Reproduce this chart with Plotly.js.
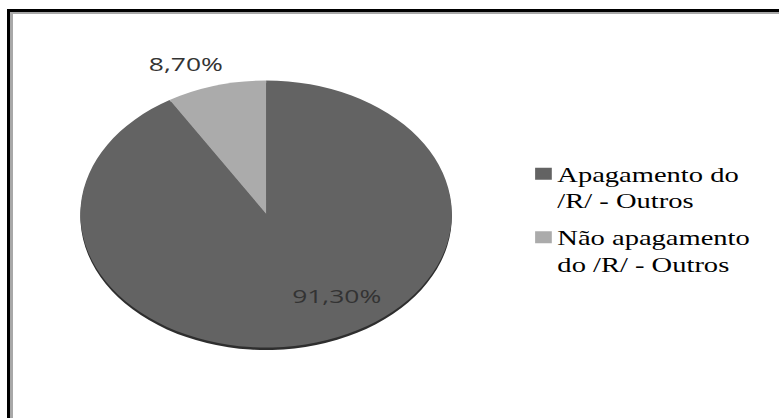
<!DOCTYPE html>
<html><head><meta charset="utf-8">
<script src="https://cdn.plot.ly/plotly-3.0.1.min.js"></script>
<style>
html,body{margin:0;padding:0;background:#fff;overflow:hidden;width:779px;height:418px;position:relative}
#wrap{position:absolute;left:0;top:0;width:560px;height:418px;transform:scaleX(1.391);transform-origin:0 0;}
#frameOuter{position:absolute;left:7px;top:9px;width:800px;height:500px;border-top:3px solid #000;border-left:3px solid #000;pointer-events:none}
#frameInner{position:absolute;left:10px;top:12px;width:800px;height:500px;border-top:2px solid #a8a8a8;border-left:3px solid #a8a8a8;pointer-events:none}
</style></head><body>
<div id="wrap"><div id="chart" style="width:560px;height:418px"></div></div>
<div id="frameOuter"></div><div id="frameInner"></div>
<script>
const categories = ['Apagamento do<br>/R/ - Outros', 'Não apagamento<br>do /R/ - Outros'];
const values = [91.30, 8.70];
const sliceColors = ['#636363', '#ababab'];
const rimColor = '#2e2e2e';
const valueLabels = values.map(v => v.toFixed(2).replace('.', ',') + '%');

const W = 560, H = 418;
const cx = 191.3, cy = 214, r = 133.5;
const px = x => x / W;
const py = y => 1 - y / H;

const rim = {
  type: 'pie', labels: categories, values: values,
  marker: {colors: [rimColor, rimColor], line: {width: 0}},
  sort: false, direction: 'clockwise', rotation: 0,
  textinfo: 'none', hoverinfo: 'skip', showlegend: false,
  domain: {x: [px(cx - r), px(cx + r)], y: [py(cy + 2.5 + r), py(cy + 2.5 - r)]}
};
const main = {
  type: 'pie', labels: categories, values: values,
  marker: {colors: sliceColors, line: {width: 0}},
  sort: false, direction: 'clockwise', rotation: 0,
  textinfo: 'none', hoverinfo: 'label+percent',
  domain: {x: [px(cx - r), px(cx + r)], y: [py(cy + r), py(cy - r)]}
};

const layout = {
  width: W, height: H,
  margin: {l: 0, r: 0, t: 0, b: 0},
  paper_bgcolor: '#ffffff',
  showlegend: true,
  legend: {
    x: px(360.7), xanchor: 'left', y: py(154), yanchor: 'top',
    font: {family: '"Liberation Serif", "Times New Roman", serif', size: 20.5, color: '#000'},
    valign: 'top', bgcolor: 'rgba(0,0,0,0)', itemwidth: 30
  },
  annotations: [
    {text: valueLabels[1], x: px(133.8), y: py(64), xref: 'paper', yref: 'paper', showarrow: false,
     xanchor: 'center', yanchor: 'middle', font: {family: '"Open Sans", sans-serif', size: 19, color: '#333'}},
    {text: valueLabels[0], x: px(242.4), y: py(296), xref: 'paper', yref: 'paper', showarrow: false,
     xanchor: 'center', yanchor: 'middle', font: {family: '"Open Sans", sans-serif', size: 19, color: '#333'}}
  ]
};

Plotly.newPlot('chart', [rim, main], layout, {displayModeBar: false}).then(() => {
  document.querySelectorAll('#chart .legend .legendpoints').forEach(g => g.setAttribute('transform', 'translate(10,0)'));
  document.querySelectorAll('#chart .legend .traces').forEach((g, i) => {
    const t = g.getAttribute('transform') || '';
    const m = t.match(/translate\(\s*([-\d.]+)[ ,]+([-\d.]+)\s*\)/);
    if (m) g.setAttribute('transform', 'translate(' + m[1] + ',' + (parseFloat(m[2]) + 7 * i) + ')');
  });
});
</script>
</body></html>
